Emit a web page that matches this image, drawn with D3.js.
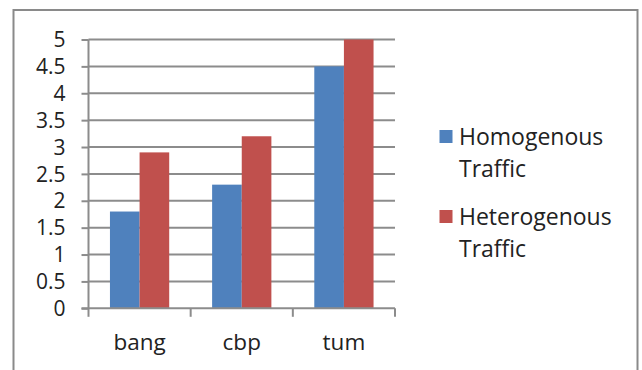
<!DOCTYPE html>
<html><head><meta charset="utf-8">
<script src="https://cdn.jsdelivr.net/npm/d3@7"></script>
<style>body{margin:0;background:#fff}svg{display:block}text{font-family:"Open Sans",sans-serif;fill:#222}</style>
</head><body><svg id="c" width="642" height="370"></svg>
<script>
const categories = ["bang", "cbp", "tum"];
const seriesNames = ["Homogenous Traffic", "Heterogenous Traffic"];
const homogenous = [1.8, 2.3, 4.5];
const heterogenous = [2.9, 3.2, 5.0];
const yTicks = [0, 0.5, 1, 1.5, 2, 2.5, 3, 3.5, 4, 4.5, 5];
const colors = ["#4F81BD", "#C0504D"];

const svg = d3.select("#c");
const L = 88.5, R = 395, T = 39.5, B = 308.3;
const grid = "#8c8c8c";

svg.append("rect").attr("x", 13.5).attr("y", 10).attr("width", 624).attr("height", 380)
  .attr("fill", "none").attr("stroke", "#8a8a8a").attr("stroke-width", 2);

const x0 = d3.scaleBand().domain(categories).range([L, R]).paddingInner(0.42).paddingOuter(0.21);
const x1 = d3.scaleBand().domain(seriesNames).range([0, x0.bandwidth()]);
const y = d3.scaleLinear().domain([0, 5]).range([B, T]);

// gridlines
svg.append("g").selectAll("line").data(yTicks.filter(d => d > 0)).join("line")
  .attr("x1", L).attr("x2", R).attr("y1", d => y(d)).attr("y2", d => y(d))
  .attr("stroke", grid).attr("stroke-width", 2);

const data = categories.map((c, i) => ({c, vals: [homogenous[i], heterogenous[i]]}));
svg.append("g").selectAll("g").data(data).join("g")
  .attr("transform", d => `translate(${x0(d.c)},0)`)
  .selectAll("rect").data(d => d.vals.map((v, j) => ({v, s: seriesNames[j], j}))).join("rect")
  .attr("x", d => x1(d.s)).attr("width", x1.bandwidth())
  .attr("y", d => y(d.v)).attr("height", d => B - y(d.v))
  .attr("fill", d => colors[d.j]);

// y axis
const ya = svg.append("g").attr("transform", `translate(${L},0)`)
  .call(d3.axisLeft(y).tickValues(yTicks).tickSize(7).tickPadding(16).tickFormat(d3.format("")));
ya.select(".domain").attr("stroke", grid).attr("stroke-width", 2).attr("d", `M0,${T}V${B}`);
ya.selectAll(".tick line").attr("stroke", grid).attr("stroke-width", 2);
ya.selectAll(".tick text").style("font-size", "21px").style("font-family", '"Open Sans",sans-serif').attr("fill", "#222").attr("dy", "0.34em");

// x axis
const xa = svg.append("g").attr("transform", `translate(0,${B})`);
xa.append("line").attr("x1", L - 7).attr("x2", R).attr("y1", 0).attr("y2", 0).attr("stroke", grid).attr("stroke-width", 2);
xa.selectAll("line.t").data([L, ...categories.slice(1).map(c => x0(c) - x0.step()*0.21), R]).join("line")
  .attr("class", "t").attr("x1", d => d).attr("x2", d => d).attr("y1", 0).attr("y2", 8.5)
  .attr("stroke", grid).attr("stroke-width", 2);
xa.selectAll("text").data(categories).join("text")
  .attr("x", c => x0(c) + x0.bandwidth() / 2).attr("y", 42)
  .attr("text-anchor", "middle").style("font-size", "22.5px").text(c => c);

// legend
const legend = [
  {name: seriesNames[0], lines: ["Homogenous", "Traffic"], y: 130, color: colors[0]},
  {name: seriesNames[1], lines: ["Heterogenous", "Traffic"], y: 210, color: colors[1]}
];
const lg = svg.append("g").selectAll("g").data(legend).join("g");
lg.append("rect").attr("x", 439.5).attr("y", d => d.y).attr("width", 13).attr("height", 13).attr("fill", d => d.color);
lg.append("text").attr("x", 459).attr("y", d => d.y + 15).style("font-size", "23px")
  .selectAll("tspan").data(d => d.lines).join("tspan")
  .attr("x", 459).attr("dy", (d, i) => i ? 32 : 0).text(d => d);
</script></body></html>
